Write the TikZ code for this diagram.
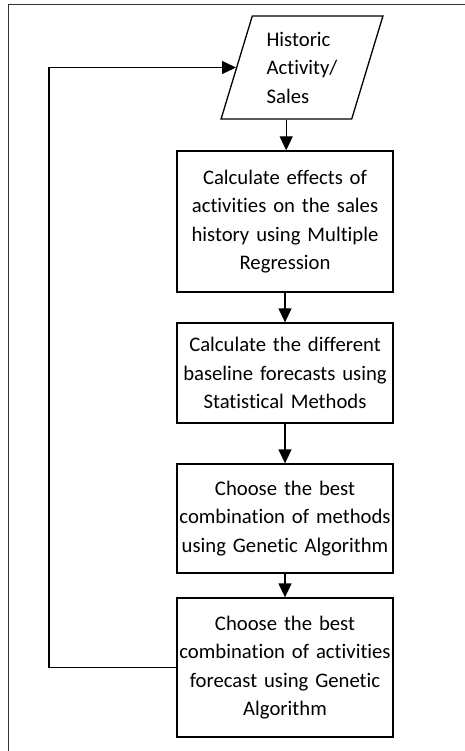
\documentclass[tikz,border=0pt]{standalone}
\usepackage{fontspec}
\setmainfont[RawFeature={-liga}]{Carlito}
\usetikzlibrary{shapes.geometric,arrows.meta}
\begin{document}
\begin{tikzpicture}[
        x=1pt, y=-1pt,
        every node/.style={font=\fontsize{20.7}{28.5}\selectfont},
        stepbox/.style={rectangle, draw, line width=1.3pt, minimum width=216pt, inner sep=2pt, text width=212pt, align=center},
        input/.style={trapezium, draw, line width=1.3pt, trapezium left angle=72.7, trapezium right angle=107.3, trapezium stretches=true, minimum width=162pt, minimum height=103pt, inner sep=0pt, align=left},
        arrow/.style={-{Triangle[length=14pt, width=13pt]}, line width=1.3pt}
    ]
        \useasboundingbox (0,0) rectangle (464,751);
        % Frame
        \draw[line width=1pt, black!80] (8,760) -- (8,5) -- (470,5);

        % Input
        \node[input] (hist) at (302,67.5) {Historic\\Activity/\\Sales};

        % Steps
        \node[stepbox, minimum height=141pt] (calc) at (285,221.5) {Calculate effects of\\activities on the sales\\history using Multiple\\Regression};
        \node[stepbox, minimum height=100pt] (base) at (285,373) {Calculate the different\\baseline forecasts using\\Statistical Methods};
        \node[stepbox, minimum height=109pt] (meth) at (285,518.5) {Choose the best\\combination of methods\\using Genetic Algorithm};
        \node[stepbox, minimum height=139pt] (act) at (285,667.5) {Choose the best\\combination of activities\\forecast using Genetic\\Algorithm};

        \draw[arrow] (hist.bottom side) -- (hist.bottom side |- calc.north);
        \draw[arrow] (calc) -- (base);
        \draw[arrow] (base) -- (meth);
        \draw[arrow] (meth) -- (act);

        % Loop back
        \coordinate (back) at (49,0);
        \draw[arrow] (act.west) -- (act.west -| back) -- (back |- hist.left side) -- (hist.left side);
    \end{tikzpicture}
\end{document}
